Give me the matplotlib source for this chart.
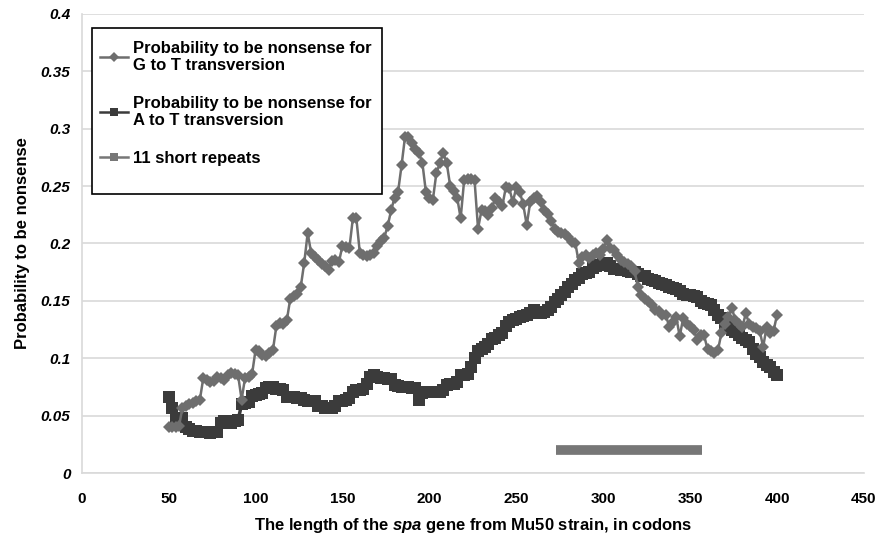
import matplotlib
matplotlib.use("Agg")
import matplotlib.pyplot as plt
from matplotlib.lines import Line2D
from matplotlib.patches import Rectangle
import numpy as np

plt.rcParams['font.family'] = ['Liberation Sans', 'DejaVu Sans']
plt.rcParams['mathtext.fontset'] = 'custom'
plt.rcParams['mathtext.it'] = 'Liberation Sans:italic:bold'
plt.rcParams['mathtext.rm'] = 'Liberation Sans:bold'

# codon positions (every 2nd codon)
codons = list(range(50, 401, 2))

# probability to be nonsense, G to T transversion
gt = [0.040, 0.040, 0.040, 0.041, 0.057, 0.058, 0.060, 0.061, 0.063, 0.064,
      0.083, 0.081, 0.079, 0.080, 0.084, 0.083, 0.081, 0.085, 0.087, 0.086,
      0.085, 0.064, 0.083, 0.084, 0.086, 0.107, 0.106, 0.103, 0.102, 0.105,
      0.107, 0.128, 0.131, 0.130, 0.133, 0.152, 0.154, 0.156, 0.162, 0.183,
      0.209, 0.192, 0.188, 0.186, 0.182, 0.180, 0.177, 0.185, 0.186, 0.184,
      0.198, 0.197, 0.196, 0.222, 0.222, 0.192, 0.190, 0.189, 0.190, 0.192,
      0.198, 0.202, 0.205, 0.215, 0.229, 0.240, 0.245, 0.268, 0.293, 0.293,
      0.288, 0.282, 0.279, 0.270, 0.245, 0.240, 0.238, 0.261, 0.270, 0.279,
      0.270, 0.250, 0.246, 0.240, 0.222, 0.255, 0.256, 0.256, 0.255, 0.213,
      0.229, 0.228, 0.225, 0.231, 0.240, 0.236, 0.233, 0.249, 0.248, 0.236,
      0.249, 0.245, 0.234, 0.216, 0.236, 0.240, 0.241, 0.236, 0.229, 0.226,
      0.220, 0.213, 0.210, 0.209, 0.208, 0.206, 0.201, 0.200, 0.183, 0.188,
      0.190, 0.187, 0.190, 0.192, 0.190, 0.195, 0.203, 0.196, 0.194, 0.190,
      0.186, 0.184, 0.182, 0.180, 0.176, 0.162, 0.155, 0.152, 0.150, 0.146,
      0.142, 0.141, 0.138, 0.138, 0.127, 0.132, 0.136, 0.119, 0.135, 0.130,
      0.128, 0.125, 0.116, 0.120, 0.120, 0.108, 0.106, 0.105, 0.107, 0.122,
      0.130, 0.136, 0.144, 0.133, 0.130, 0.127, 0.139, 0.130, 0.127, 0.126,
      0.124, 0.110, 0.127, 0.122, 0.124, 0.138]

# probability to be nonsense, A to T transversion
at = [0.066, 0.057, 0.048, 0.048, 0.048, 0.040, 0.038, 0.037, 0.037, 0.036,
      0.036, 0.036, 0.035, 0.036, 0.036, 0.044, 0.045, 0.044, 0.044, 0.045,
      0.046, 0.060, 0.061, 0.062, 0.067, 0.068, 0.069, 0.070, 0.074, 0.075,
      0.075, 0.073, 0.073, 0.072, 0.066, 0.066, 0.066, 0.065, 0.065, 0.064,
      0.063, 0.063, 0.063, 0.058, 0.058, 0.057, 0.057, 0.057, 0.058, 0.063,
      0.063, 0.064, 0.065, 0.071, 0.072, 0.072, 0.073, 0.078, 0.084, 0.085,
      0.084, 0.083, 0.083, 0.082, 0.082, 0.077, 0.076, 0.075, 0.075, 0.075,
      0.074, 0.074, 0.064, 0.070, 0.071, 0.071, 0.071, 0.071, 0.071, 0.072,
      0.077, 0.078, 0.078, 0.079, 0.085, 0.085, 0.086, 0.092, 0.100, 0.106,
      0.108, 0.110, 0.112, 0.117, 0.118, 0.120, 0.122, 0.128, 0.132, 0.133,
      0.134, 0.136, 0.137, 0.138, 0.139, 0.142, 0.139, 0.139, 0.140, 0.142,
      0.145, 0.149, 0.152, 0.155, 0.158, 0.162, 0.165, 0.168, 0.170, 0.173,
      0.174, 0.175, 0.179, 0.180, 0.181, 0.182, 0.183, 0.180, 0.178, 0.178,
      0.177, 0.177, 0.176, 0.175, 0.175, 0.173, 0.172, 0.172, 0.169, 0.168,
      0.167, 0.166, 0.165, 0.164, 0.162, 0.161, 0.160, 0.159, 0.156, 0.155,
      0.155, 0.154, 0.153, 0.150, 0.148, 0.147, 0.146, 0.142, 0.138, 0.135,
      0.130, 0.127, 0.125, 0.123, 0.120, 0.118, 0.116, 0.114, 0.108, 0.104,
      0.101, 0.097, 0.094, 0.092, 0.088, 0.085]

# region of the 11 short repeats
repeat_x = [273, 357]
repeat_y = [0.02, 0.02]

yticks = [0, 0.05, 0.1, 0.15, 0.2, 0.25, 0.3, 0.35, 0.4]
ytick_labels = ['0', '0.05', '0.1', '0.15', '0.2', '0.25', '0.3', '0.35', '0.4']
xticks = list(range(0, 451, 50))

gt_color = '#6e6e6e'
at_color = '#3b3b3b'
rep_color = '#777777'

fig = plt.figure(figsize=(8.8, 5.38), dpi=100)
ax = fig.add_axes([0.0928, 0.1208, 0.889, 0.8532])

ax.plot(repeat_x, repeat_y, color=rep_color, linewidth=7, solid_capstyle='butt', zorder=2)
ax.plot(codons, at, color=at_color, linewidth=2.5, marker='s', markersize=9,
        markeredgewidth=0, zorder=3)
ax.plot(codons, gt, color=gt_color, linewidth=1.8, marker='D', markersize=6,
        markeredgewidth=0, zorder=4)

ax.set_xlim(0, 450)
ax.set_ylim(0, 0.4)
ax.set_xticks(xticks)
ax.set_yticks(yticks)
ax.set_yticklabels(ytick_labels)
ax.grid(axis='y', color='#d9d9d9', linewidth=1.2)
ax.set_axisbelow(True)
for side in ['top', 'right']:
    ax.spines[side].set_visible(False)
for side in ['left', 'bottom']:
    ax.spines[side].set_color('#d9d9d9')
    ax.spines[side].set_linewidth(1.2)
ax.tick_params(length=0, labelsize=11)
ax.tick_params(axis='x', pad=14)
ax.tick_params(axis='y', pad=8)
for lab in ax.get_xticklabels():
    lab.set_fontweight('bold')
for lab in ax.get_yticklabels():
    lab.set_fontweight('bold')
    lab.set_fontstyle('italic')

ax.set_xlabel('The length of the $spa$ gene from Mu50 strain, in codons',
              fontsize=12, fontweight='bold', labelpad=7)
ax.set_ylabel('Probability to be nonsense', fontsize=12, fontweight='bold', labelpad=8)

# legend frame drawn separately (the original has extra room at the bottom)
frame = Rectangle((92 / 880, 1 - 194 / 538), 290 / 880, 166 / 538,
                  transform=fig.transFigure, facecolor='white', edgecolor='black',
                  linewidth=1.2, clip_on=False, zorder=5)
ax.add_patch(frame)

handles = [
    Line2D([], [], color=gt_color, linewidth=1.8, marker='D', markersize=5, markeredgewidth=0),
    Line2D([], [], color=at_color, linewidth=1.8, marker='s', markersize=6, markeredgewidth=0),
    Line2D([], [], color=rep_color, linewidth=1.8, marker='s', markersize=6, markeredgewidth=0),
]
labels = ['Probability to be nonsense for\nG to T transversion',
          'Probability to be nonsense for\nA to T transversion',
          '11 short repeats']
leg = ax.legend(handles, labels, loc='upper left', bbox_to_anchor=(100 / 880, 1 - 41 / 538),
                bbox_transform=fig.transFigure, frameon=False,
                prop={'weight': 'bold', 'size': 12}, handlelength=1.7,
                handletextpad=0.3, labelspacing=1.35, borderpad=0, borderaxespad=0)
leg.set_zorder(6)

fig.savefig('out.png', dpi=100)
